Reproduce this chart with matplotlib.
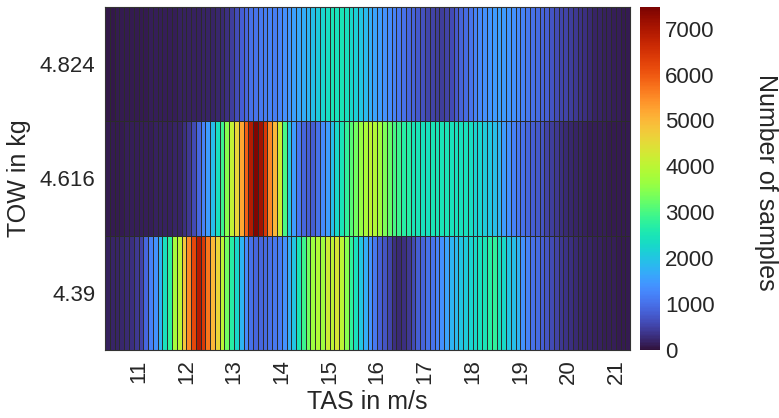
import numpy as np
import matplotlib
matplotlib.use("Agg")
import matplotlib.pyplot as plt

plt.rcParams['font.family'] = ['Liberation Sans', 'DejaVu Sans']

# TAS bin edges (m/s) and TOW categories (kg)
tas_start = 10.3
tas_step = 0.1
tow_labels = ["4.39", "4.616", "4.824"]
tas_ticks = [11, 12, 13, 14, 15, 16, 17, 18, 19, 20, 21]

# Number of samples per 0.1 m/s TAS bin, one list per TOW (bottom to top)
counts_4390 = [150, 180, 200, 220, 250, 300, 400, 500, 900, 1200,
               1400, 1800, 2400, 2800, 3800, 4000, 4800, 5500, 6200, 6900,
               6400, 5700, 5000, 4600, 4000, 3300, 2700, 2300, 1800, 1300,
               1000, 900, 900, 950, 1000, 1100, 1150, 1400, 1700, 2000,
               2500, 2900, 3300, 3700, 3900, 3700, 4200, 4000, 4300, 4000,
               3500, 2800, 2400, 2000, 1700, 1400, 1100, 800, 700, 500,
               300, 250, 300, 400, 600, 800, 850, 1000, 1050, 1200,
               1400, 1600, 1800, 1850, 2000, 2100, 2200, 2300, 2400, 2500,
               2700, 2800, 2400, 2300, 2000, 1900, 1800, 1400, 1200, 1000,
               950, 800, 700, 600, 500, 400, 350, 300, 250, 220,
               200, 180, 160, 150, 140, 130, 120, 110, 100, 100]
counts_4616 = [100, 100, 110, 110, 120, 120, 130, 130, 140, 140,
               150, 150, 160, 170, 180, 200, 300, 400, 600, 900,
               1200, 1500, 1900, 2400, 2900, 3500, 4100, 4600, 5200, 5900,
               6900, 7400, 7100, 6400, 5500, 5000, 4200, 3000, 2000, 1500,
               1100, 900, 800, 800, 1000, 1300, 1500, 1900, 2300, 2500,
               2800, 3100, 3300, 3600, 3800, 4000, 3900, 3700, 3400, 3200,
               3000, 2900, 2700, 2700, 2500, 2500, 2400, 2400, 2500, 2500,
               2500, 2500, 2450, 2400, 2400, 2400, 2350, 2200, 2200, 2100,
               2000, 1900, 1800, 1500, 1400, 1200, 1100, 1000, 900, 800,
               750, 700, 500, 450, 400, 300, 250, 220, 200, 180,
               150, 140, 130, 120, 120, 110, 110, 100, 100, 100]
counts_4824 = [80, 80, 90, 90, 100, 100, 100, 110, 110, 120,
               120, 130, 130, 140, 140, 150, 150, 150, 160, 170,
               180, 190, 200, 220, 250, 300, 450, 600, 800, 900,
               1000, 1050, 1100, 1150, 1200, 1150, 1250, 1350, 1450, 1550,
               1650, 1700, 1800, 1950, 2100, 2200, 2350, 2500, 2450, 2500,
               2400, 2300, 2150, 2000, 1850, 1700, 1600, 1500, 1400, 1300,
               1200, 1100, 1000, 900, 850, 750, 650, 550, 500, 450,
               450, 500, 600, 750, 850, 950, 1050, 1200, 1300, 1400,
               1450, 1500, 1550, 1500, 1450, 1400, 1300, 1200, 1100, 1000,
               950, 850, 800, 700, 600, 550, 500, 450, 400, 350,
               300, 250, 200, 180, 160, 150, 130, 120, 110, 100]

vmax = 7470

data = np.array([counts_4390, counts_4616, counts_4824], dtype=float)
nbins = data.shape[1]
x_edges = tas_start + tas_step * np.arange(nbins + 1)
y_edges = np.arange(len(tow_labels) + 1)

txt = '#262626'
fig = plt.figure(figsize=(7.79, 4.18), dpi=100)
ax = fig.add_axes([0.135, 0.163, 0.674, 0.820])
cax = fig.add_axes([0.822, 0.163, 0.025, 0.820])

mesh = ax.pcolormesh(x_edges, y_edges, data, cmap='turbo', vmin=0, vmax=vmax,
                     edgecolors='#2b2b2b', linewidth=0.6)
ax.set_xlim(x_edges[0], x_edges[-1])
ax.set_ylim(0, len(tow_labels))
ax.set_yticks(np.arange(len(tow_labels)) + 0.5)
ax.set_yticklabels(tow_labels, fontsize=16, color=txt)
ax.set_xticks(tas_ticks)
ax.set_xticklabels([str(t) for t in tas_ticks], rotation=90, fontsize=16, color=txt)
ax.tick_params(length=0, pad=7)
ax.set_xlabel("TAS in m/s", fontsize=18, color=txt, labelpad=4)
ax.set_ylabel("TOW in kg", fontsize=18, color=txt, labelpad=6)
for s in ax.spines.values():
    s.set_color('#333333')

cb = fig.colorbar(mesh, cax=cax)
cb.set_ticks([0, 1000, 2000, 3000, 4000, 5000, 6000, 7000])
cb.ax.tick_params(labelsize=16, length=0, pad=4, colors=txt)
cb.outline.set_visible(False)
fig.text(0.983, 0.565, "Number of samples", rotation=270, fontsize=18,
         color=txt, ha='center', va='center')

fig.savefig("out.png", dpi=100)
